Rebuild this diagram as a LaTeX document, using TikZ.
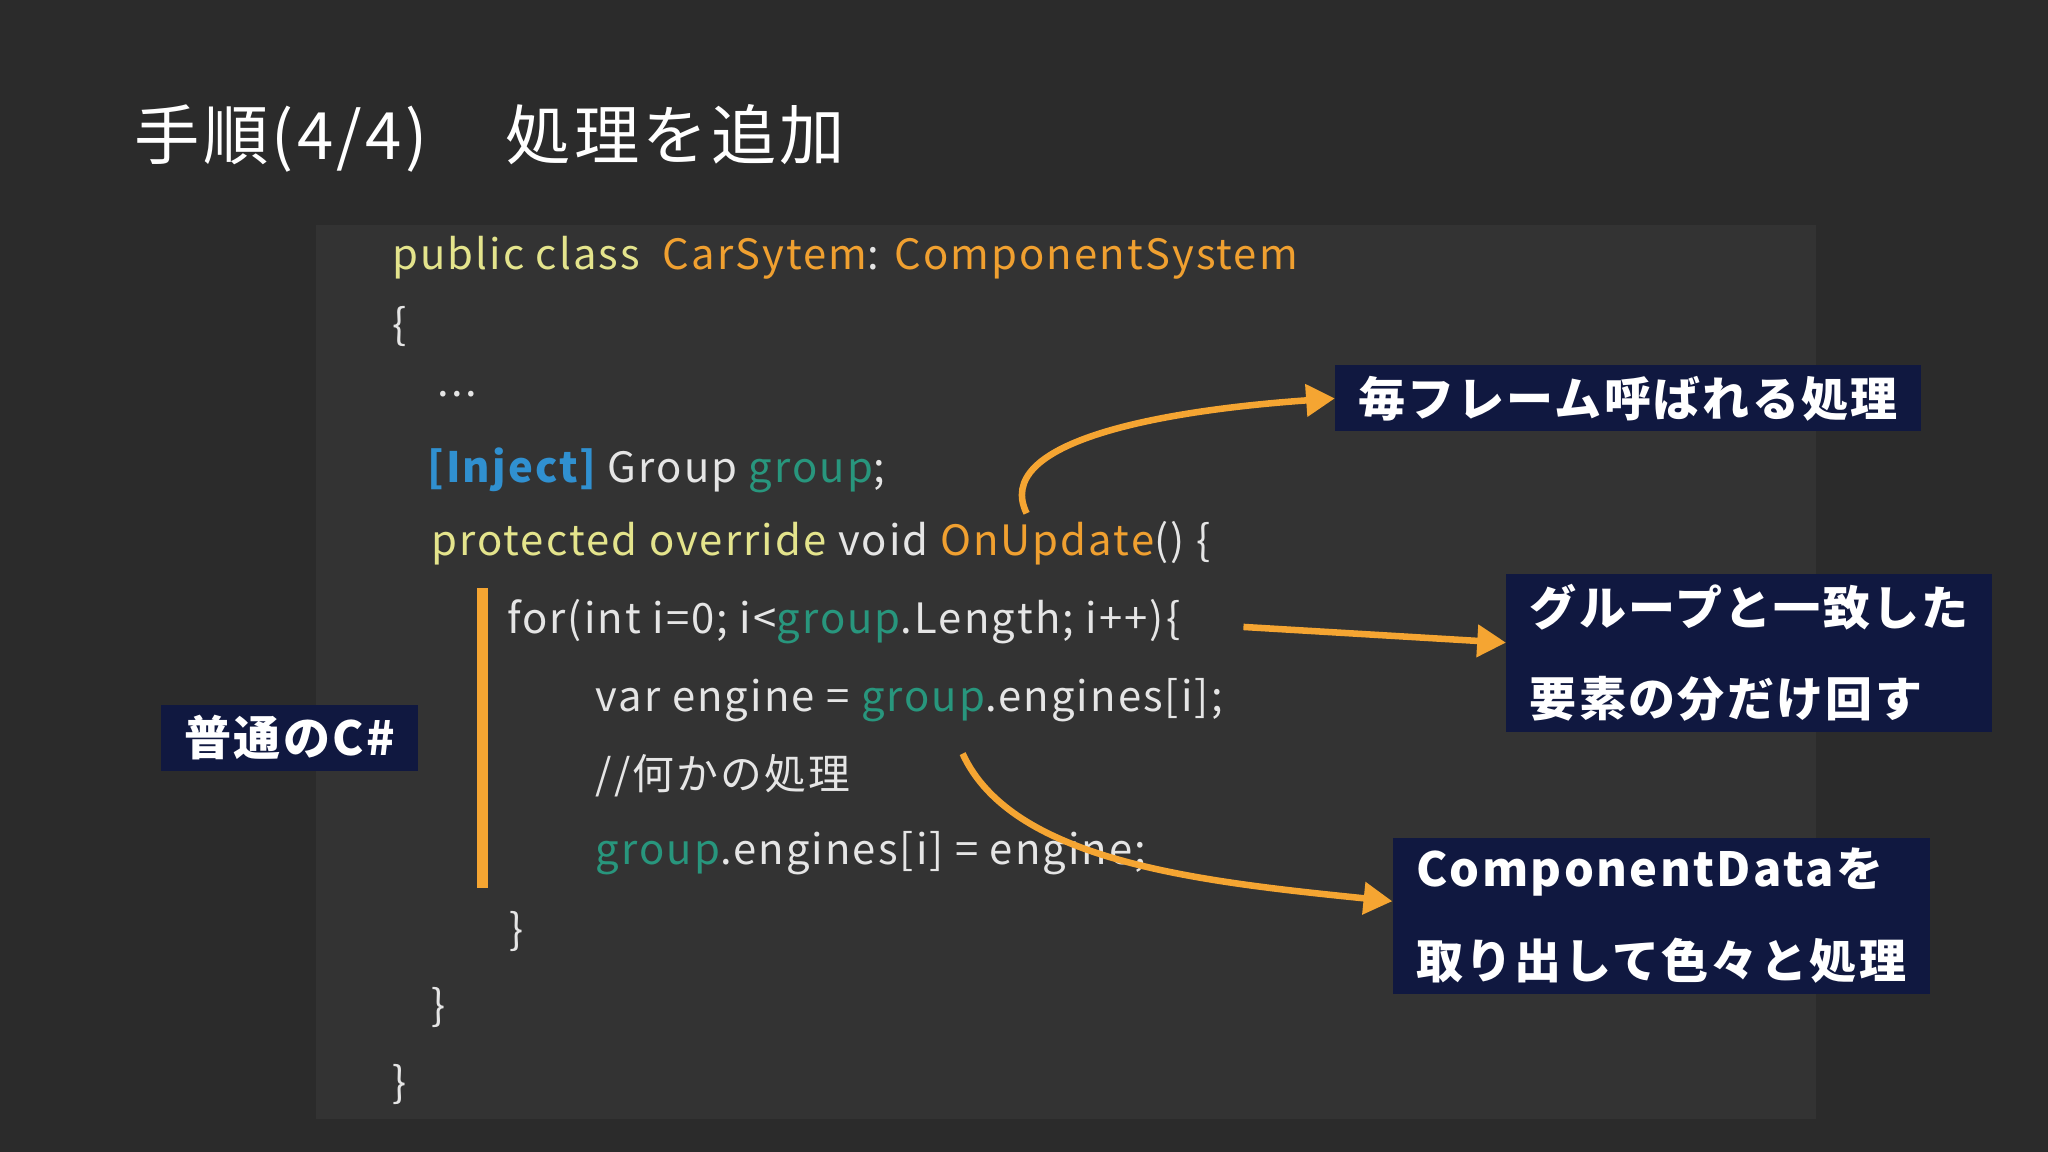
\documentclass[tikz,border=0pt]{standalone}
\usepackage{fontspec}
\setmainfont{Noto Sans CJK JP}
\newfontfamily\codefont[LetterSpace=5]{Noto Sans CJK JP}
\newfontfamily\boxfont[LetterSpace=5]{Noto Sans CJK JP}
\usetikzlibrary{arrows.meta}
\definecolor{bgdark}{RGB}{43,43,43}
\definecolor{panel}{RGB}{51,51,51}
\definecolor{kwyellow}{RGB}{228,228,140}
\definecolor{typeorange}{RGB}{240,160,48}
\definecolor{attrblue}{RGB}{48,144,208}
\definecolor{varteal}{RGB}{40,150,125}
\definecolor{navybox}{RGB}{16,24,64}
\definecolor{arroworange}{RGB}{245,165,50}
\tikzset{
  code/.style={anchor=west,text=white!90!black,font=\codefont\fontsize{32}{36}\selectfont,inner sep=0pt},
  callout/.style={fill=navybox,text=white,font=\boxfont\bfseries\fontsize{36}{70}\selectfont,align=left,inner xsep=18pt,inner ysep=8pt},
  pointer/.style={draw=arroworange,line width=5pt,-{Triangle[length=22pt,width=24pt]}}
}
\begin{document}
\begin{tikzpicture}[x=1pt,y=-1pt]
%background and code panel
\fill[bgdark] (0,0) rectangle (1568,882);
\fill[panel] (242,172) rectangle (1390,857);
\node[anchor=west,text=white,font=\boxfont\fontsize{50}{56}\selectfont,inner sep=0pt] (title) at (103,106) {手順(4/4)\hspace{1.2em}処理を追加};

%code lines
\node[code] (l1) at (300,197) {\textcolor{kwyellow}{public class}\ \ \textcolor{typeorange}{CarSytem}: \textcolor{typeorange}{ComponentSystem}};
\node[code] (l2) at (300,250) {\{};
\node[code] (l3) at (335,302) {...};
\node[code] (l4) at (327,360) {\textcolor{attrblue}{\bfseries[Inject]} Group \textcolor{varteal}{group};};
\node[code] (l5) at (330,416) {\textcolor{kwyellow}{protected override} void \textcolor{typeorange}{OnUpdate}() \{};
\node[code] (l6) at (388,476) {for(int i=0; i<\textcolor{varteal}{group}.Length; i++)\{};
\node[code] (l7) at (456,536) {var engine = \textcolor{varteal}{group}.engines[i];};
\node[code] (l8) at (456,594) {//何かの処理};
\node[code] (l9) at (456,653) {\textcolor{varteal}{group}.engines[i] = engine;};
\node[code] (l10) at (390,713) {\}};
\node[code] (l11) at (330,771) {\}};
\node[code] (l12) at (300,830) {\}};
\fill[arroworange] (365,450) rectangle (374,680);

%callouts
\node[callout,anchor=west] (everyframe) at (1022,305) {毎フレーム呼ばれる処理};
\node[callout,anchor=west] (loop) at (1153,500) {グループと一致した\\要素の分だけ回す};
\node[callout,anchor=west] (data) at (1066,701) {ComponentDataを\\取り出して色々と処理};
\node[callout,anchor=west] (plain) at (123,565) {普通のC\#};

%pointers
\coordinate (updstart) at (786,393);
\coordinate (forstart) at (952,480);
\coordinate (bodystart) at (737,577);
\draw[pointer] (updstart) .. controls (760,340) and (880,315) .. (everyframe.west);
\draw[pointer] (forstart) -- (loop.west |- 0,492);
\draw[pointer] (bodystart) .. controls (775,660) and (920,675) .. (data.west |- 0,690);
\end{tikzpicture}
\end{document}
